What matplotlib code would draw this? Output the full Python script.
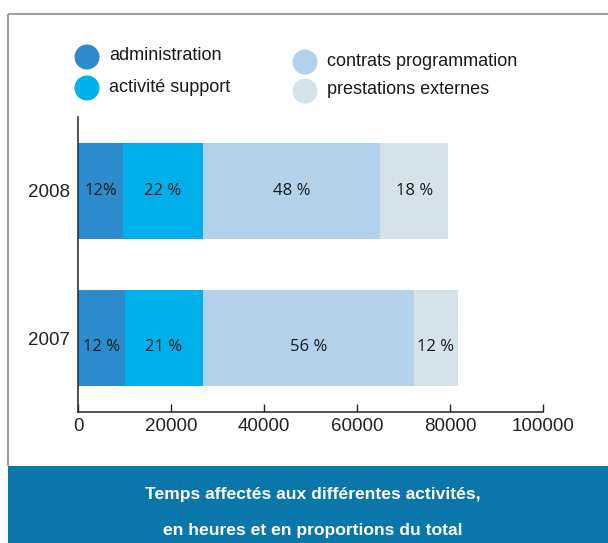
import matplotlib.pyplot as plt
from matplotlib.patches import Rectangle, Ellipse
import numpy as np

# data (hours)
years = ['2007', '2008']
categories = ['administration', 'activité support', 'contrats programmation', 'prestations externes']
administration = [10100, 9700]
activite_support = [16800, 17200]
contrats = [45350, 38100]
prestations = [9450, 14600]
pct_2007 = ['12 %', '21 %', '56 %', '12 %']
pct_2008 = ['12%', '22 %', '48 %', '18 %']
xticks = [0, 20000, 40000, 60000, 80000, 100000]

colors = ['#2b8bcc', '#00b0ea', '#b4d1ec', '#d6e2ea']
narrow = ['Liberation Sans Narrow', 'Liberation Sans', 'DejaVu Sans']

fig = plt.figure(figsize=(6.08, 5.43), dpi=100)

# background layer in pixel coordinates (frame, legend, caption band)
bg = fig.add_axes([0, 0, 1, 1], zorder=0)
bg.set_xlim(0, 608)
bg.set_ylim(543, 0)
bg.axis('off')
bg.plot([8, 608], [14, 14], color='#a0a0a0', lw=1.5, solid_capstyle='butt')
bg.plot([8, 8], [14, 466], color='#a0a0a0', lw=1.5, solid_capstyle='butt')
bg.add_patch(Rectangle((8, 466), 600, 77, facecolor='#0a76a9', edgecolor='none'))
bg.text(313, 495, 'Temps affectés aux différentes activités,', color='white',
        fontsize=12.6, fontweight='bold', family=narrow, ha='center', va='center')
bg.text(313, 530, 'en heures et en proportions du total', color='white',
        fontsize=12.6, fontweight='bold', family=narrow, ha='center', va='center')

# legend
leg_pos = [(87, 57), (87, 88), (305, 62), (305, 91)]
for (lx, ly), name, c in zip(leg_pos, categories, colors):
    bg.add_patch(Ellipse((lx, ly), 25, 25, facecolor=c, edgecolor='none'))
    bg.text(lx + 22, ly - 1, name, fontsize=13, family=narrow,
            ha='left', va='center', color='#1a1a1a')

# main chart
ax = fig.add_axes([78 / 608, 1 - 412 / 543, 465 / 608, 295 / 543], zorder=1)
ax.patch.set_alpha(0)
y = np.arange(len(years))
series = [administration, activite_support, contrats, prestations]
left = np.zeros(len(years))
for vals, c in zip(series, colors):
    ax.barh(y, vals, left=left, height=0.65, color=c, edgecolor='none')
    left += np.array(vals)

labels = [pct_2007, pct_2008]
for i in range(len(years)):
    start = 0
    for j, vals in enumerate(series):
        ax.text(start + vals[i] / 2, y[i] - (0.06 if i == 0 else 0), labels[i][j],
                ha='center', va='center', fontsize=12, family='Open Sans',
                color='#1a1a1a')
        start += vals[i]

ax.set_xlim(0, 100000)
ax.set_ylim(-0.5, 1.5)
ax.set_xticks(xticks)
ax.set_xticklabels([str(t) for t in xticks], family=narrow, fontsize=13.5)
ax.set_yticks(y)
ax.set_yticklabels(years, family=narrow, fontsize=13.5)
ax.tick_params(axis='x', direction='in', length=6, width=1, pad=4, colors='#222222')
ax.tick_params(axis='y', length=0, pad=6, colors='#222222')
for s in ['top', 'right']:
    ax.spines[s].set_visible(False)
for s in ['left', 'bottom']:
    ax.spines[s].set_color('#333333')
    ax.spines[s].set_linewidth(1.2)

fig.savefig('out.png', dpi=100)
